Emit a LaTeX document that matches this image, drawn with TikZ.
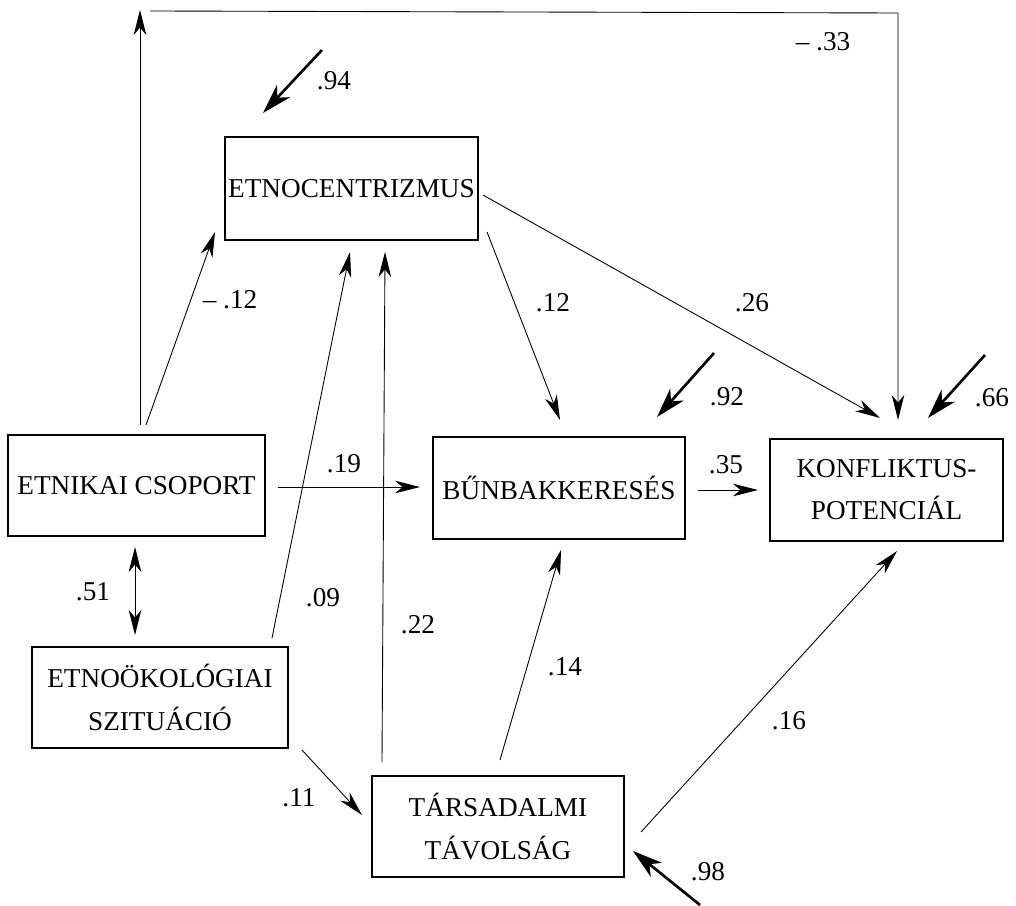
\documentclass[tikz,border=0pt]{standalone}
\usepackage{fontspec}
\setmainfont{Liberation Serif}
\usetikzlibrary{arrows.meta}
\begin{document}
\begin{tikzpicture}[x=0.02cm,y=-0.02cm,
  box/.style={draw, line width=0.8pt, align=center, inner sep=0pt, font=\fontsize{15.5}{24}\selectfont},
  lbl/.style={font=\fontsize{15.5}{18}\selectfont, inner sep=0pt},
  conn/.style={line width=0.5pt, -{Stealth[length=0.5cm,width=0.25cm,inset=0.15cm]}},
  twoway/.style={line width=0.5pt, {Stealth[length=0.5cm,width=0.25cm,inset=0.15cm]}-{Stealth[length=0.5cm,width=0.25cm,inset=0.15cm]}},
  resid/.style={line width=1.5pt, -{Stealth[length=0.6cm,width=0.36cm,inset=0.18cm]}}
]
\useasboundingbox (0,0) rectangle (1016,905);

% boxes
\node[box, minimum width=5.06cm, minimum height=2.06cm] (etno) at (351.5,188.5) {ETNOCENTRIZMUS};
\node[box, minimum width=5.14cm, minimum height=2.02cm] (ec) at (136.5,485.5) {ETNIKAI CSOPORT};
\node[box, minimum width=5.04cm, minimum height=2.04cm] (bun) at (559,488) {BŰNBAKKERESÉS};
\node[box, minimum width=4.66cm, minimum height=2.04cm] (konf) at (886.5,490) {KONFLIKTUS-\\POTENCIÁL};
\node[box, minimum width=5.12cm, minimum height=2.02cm] (eko) at (160,697.5) {ETNOÖKOLÓGIAI\\SZITUÁCIÓ};
\node[box, minimum width=5.04cm, minimum height=2.02cm] (tars) at (498,826.5) {TÁRSADALMI\\TÁVOLSÁG};

% connector end points
\coordinate (ecUp) at (140,425);
\coordinate (cornerA) at (140,10);
\coordinate (cornerB) at (150,11);
\coordinate (cornerC) at (898,13);
\coordinate (konfTop) at (898,420);
\coordinate (ecDiag) at (146,425);
\coordinate (etnoLL) at (215,232);
\coordinate (ekoUp) at (272,638);
\coordinate (etnoB1) at (350,252);
\coordinate (tarsUp) at (382,762);
\coordinate (etnoB2) at (385,252);
\coordinate (etnoBR) at (487,232);
\coordinate (bunTop) at (560,420);
\coordinate (etnoR) at (483,195);
\coordinate (konfTL) at (880,418);
\coordinate (ecR) at (278,487);
\coordinate (bunL) at (420,487);
\coordinate (bunR) at (698,490);
\coordinate (konfL) at (758,490);
\coordinate (ecB) at (135,547);
\coordinate (ekoT) at (135,635);
\coordinate (ekoBR) at (302,750);
\coordinate (tarsL) at (362,815);
\coordinate (tarsT) at (500,760);
\coordinate (bunB) at (561,550);
\coordinate (tarsR) at (641,832);
\coordinate (konfB) at (897,551);
\coordinate (r94s) at (322,50);
\coordinate (r94e) at (263,113);
\coordinate (r92s) at (714,353);
\coordinate (r92e) at (657,417);
\coordinate (r66s) at (985,355);
\coordinate (r66e) at (928,418);
\coordinate (r98s) at (700,905);
\coordinate (r98e) at (633,851);

% connectors
\draw[conn] (ecUp) -- (cornerA);
\draw[conn] (cornerB) -- (cornerC) -- (konfTop);
\draw[conn] (ecDiag) -- (etnoLL);
\draw[conn] (ekoUp) -- (etnoB1);
\draw[conn] (tarsUp) -- (etnoB2);
\draw[conn] (etnoBR) -- (bunTop);
\draw[conn] (etnoR) -- (konfTL);
\draw[conn] (ecR) -- (bunL);
\draw[conn] (bunR) -- (konfL);
\draw[twoway] (ecB) -- (ekoT);
\draw[conn] (ekoBR) -- (tarsL);
\draw[conn] (tarsT) -- (bunB);
\draw[conn] (tarsR) -- (konfB);

% residual arrows
\draw[resid] (r94s) -- (r94e);
\draw[resid] (r92s) -- (r92e);
\draw[resid] (r66s) -- (r66e);
\draw[resid] (r98s) -- (r98e);

% labels
\node[lbl] (l94) at (334,81) {.94};
\node[lbl] (l33) at (823,42) {– .33};
\node[lbl] (l12a) at (230,300) {– .12};
\node[lbl] (l12b) at (553,303) {.12};
\node[lbl] (l26) at (752,303) {.26};
\node[lbl] (l92) at (727,397) {.92};
\node[lbl] (l66) at (992,398) {.66};
\node[lbl] (l19) at (344,464) {.19};
\node[lbl] (l35) at (726,465) {.35};
\node[lbl] (l51) at (93,592) {.51};
\node[lbl] (l09) at (323,598) {.09};
\node[lbl] (l22) at (418,625) {.22};
\node[lbl] (l11) at (299,798) {.11};
\node[lbl] (l14) at (565,667) {.14};
\node[lbl] (l16) at (789,721) {.16};
\node[lbl] (l98) at (708,872) {.98};
\end{tikzpicture}
\end{document}
